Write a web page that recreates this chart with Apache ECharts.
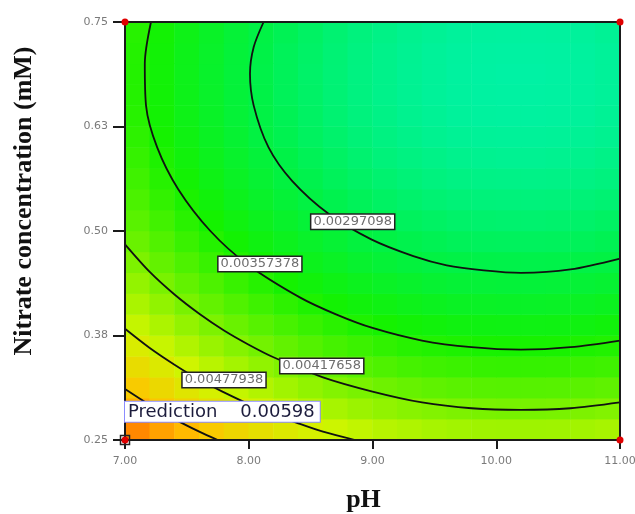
<!DOCTYPE html>
<html>
<head>
<meta charset="utf-8">
<script src="https://cdn.jsdelivr.net/npm/echarts@6/dist/echarts.min.js"></script>
<style>
html,body{margin:0;padding:0;background:#fff;}
#chart{width:635px;height:514px;}
</style>
</head>
<body>
<div id="chart"></div>
<script>
// cell centres of the shaded grid
const phCells = ['7.1','7.3','7.5','7.7','7.9','8.1','8.3','8.5','8.7','8.9','9.1','9.3','9.5','9.7','9.9','10.1','10.3','10.5','10.7','10.9'];
const nitrateCells = ['0.2625','0.2875','0.3125','0.3375','0.3625','0.3875','0.4125','0.4375','0.4625','0.4875','0.5125','0.5375','0.5625','0.5875','0.6125','0.6375','0.6625','0.6875','0.7125','0.7375'];

// response in each cell, one row per nitrate cell (bottom row first)
const zRows = [
  [0.00576,0.00559,0.00544,0.00530,0.00516,0.00504,0.00493,0.00483,0.00474,0.00467,0.00460,0.00455,0.00450,0.00447,0.00445,0.00444,0.00444,0.00445,0.00447,0.00450],
  [0.00552,0.00535,0.00520,0.00505,0.00492,0.00480,0.00469,0.00459,0.00450,0.00442,0.00436,0.00430,0.00426,0.00423,0.00420,0.00419,0.00419,0.00420,0.00423,0.00426],
  [0.00529,0.00512,0.00497,0.00483,0.00469,0.00457,0.00446,0.00436,0.00427,0.00420,0.00413,0.00408,0.00403,0.00400,0.00398,0.00397,0.00397,0.00398,0.00400,0.00403],
  [0.00508,0.00491,0.00476,0.00461,0.00448,0.00436,0.00425,0.00415,0.00406,0.00398,0.00392,0.00386,0.00382,0.00379,0.00376,0.00375,0.00375,0.00376,0.00379,0.00382],
  [0.00488,0.00471,0.00456,0.00441,0.00428,0.00416,0.00405,0.00395,0.00386,0.00379,0.00372,0.00366,0.00362,0.00359,0.00356,0.00355,0.00355,0.00356,0.00359,0.00362],
  [0.00469,0.00453,0.00437,0.00423,0.00410,0.00398,0.00387,0.00377,0.00368,0.00360,0.00354,0.00348,0.00344,0.00340,0.00338,0.00337,0.00337,0.00338,0.00340,0.00344],
  [0.00452,0.00436,0.00420,0.00406,0.00393,0.00381,0.00370,0.00360,0.00351,0.00343,0.00337,0.00331,0.00327,0.00323,0.00321,0.00320,0.00320,0.00321,0.00323,0.00327],
  [0.00437,0.00420,0.00405,0.00391,0.00377,0.00365,0.00354,0.00344,0.00336,0.00328,0.00321,0.00316,0.00311,0.00308,0.00306,0.00305,0.00305,0.00306,0.00308,0.00311],
  [0.00423,0.00406,0.00391,0.00377,0.00363,0.00351,0.00340,0.00330,0.00322,0.00314,0.00307,0.00302,0.00297,0.00294,0.00292,0.00291,0.00291,0.00292,0.00294,0.00297],
  [0.00410,0.00394,0.00378,0.00364,0.00351,0.00339,0.00328,0.00318,0.00309,0.00301,0.00295,0.00289,0.00285,0.00281,0.00279,0.00278,0.00278,0.00279,0.00281,0.00285],
  [0.00399,0.00383,0.00367,0.00353,0.00340,0.00328,0.00317,0.00307,0.00298,0.00290,0.00284,0.00278,0.00274,0.00270,0.00268,0.00267,0.00267,0.00268,0.00270,0.00274],
  [0.00390,0.00373,0.00358,0.00344,0.00330,0.00318,0.00307,0.00297,0.00288,0.00281,0.00274,0.00269,0.00264,0.00261,0.00259,0.00258,0.00258,0.00259,0.00261,0.00264],
  [0.00382,0.00365,0.00350,0.00336,0.00322,0.00310,0.00299,0.00289,0.00280,0.00273,0.00266,0.00261,0.00256,0.00253,0.00251,0.00250,0.00250,0.00251,0.00253,0.00256],
  [0.00375,0.00359,0.00343,0.00329,0.00316,0.00304,0.00293,0.00283,0.00274,0.00266,0.00259,0.00254,0.00250,0.00246,0.00244,0.00243,0.00243,0.00244,0.00246,0.00250],
  [0.00370,0.00354,0.00338,0.00324,0.00311,0.00298,0.00287,0.00277,0.00269,0.00261,0.00254,0.00249,0.00244,0.00241,0.00239,0.00238,0.00238,0.00239,0.00241,0.00244],
  [0.00366,0.00350,0.00334,0.00320,0.00307,0.00295,0.00284,0.00274,0.00265,0.00257,0.00251,0.00245,0.00241,0.00237,0.00235,0.00234,0.00234,0.00235,0.00237,0.00241],
  [0.00364,0.00348,0.00332,0.00318,0.00305,0.00293,0.00281,0.00272,0.00263,0.00255,0.00248,0.00243,0.00238,0.00235,0.00233,0.00232,0.00232,0.00233,0.00235,0.00238],
  [0.00363,0.00347,0.00331,0.00317,0.00304,0.00292,0.00281,0.00271,0.00262,0.00254,0.00248,0.00242,0.00238,0.00234,0.00232,0.00231,0.00231,0.00232,0.00234,0.00238],
  [0.00364,0.00348,0.00332,0.00318,0.00305,0.00293,0.00281,0.00272,0.00263,0.00255,0.00248,0.00243,0.00238,0.00235,0.00233,0.00232,0.00232,0.00233,0.00235,0.00238],
  [0.00366,0.00350,0.00334,0.00320,0.00307,0.00295,0.00284,0.00274,0.00265,0.00257,0.00251,0.00245,0.00241,0.00237,0.00235,0.00234,0.00234,0.00235,0.00237,0.00241]
];

// contour lines [pH, nitrate]
const contour297 = [[8.12,0.750],[8.04,0.720],[8.01,0.688],[8.04,0.650],[8.16,0.600],[8.35,0.560],[8.65,0.520],[8.99,0.490],[9.33,0.470],[9.60,0.459],[9.90,0.453],[10.20,0.450],[10.60,0.454],[11.00,0.467]];
const contour357 = [[7.21,0.750],[7.16,0.700],[7.17,0.650],[7.26,0.600],[7.43,0.550],[7.69,0.500],[7.99,0.460],[8.42,0.420],[8.71,0.400],[9.00,0.384],[9.40,0.369],[9.80,0.361],[10.20,0.358],[10.60,0.361],[11.00,0.369]];
const contour418 = [[7.00,0.484],[7.20,0.451],[7.40,0.424],[7.60,0.401],[7.80,0.381],[8.00,0.364],[8.20,0.349],[8.60,0.325],[9.00,0.308],[9.40,0.295],[9.80,0.288],[10.20,0.286],[10.60,0.288],[11.00,0.295]];
const contour478 = [[7.00,0.383],[7.20,0.360],[7.40,0.340],[7.60,0.322],[7.80,0.307],[8.00,0.293],[8.20,0.281],[8.40,0.270],[8.60,0.260],[8.86,0.250]];
const contour538 = [[7.00,0.311],[7.20,0.292],[7.40,0.275],[7.60,0.260],[7.75,0.250]];

const contourLabels = ['0.00297098','0.00357378','0.00417658','0.00477938'];
const contourLabelAt = [[8.84,0.511],[8.09,0.4605],[8.59,0.3385],[7.80,0.3218]];

const designPoints = [[7,0.25],[7,0.75],[11,0.75],[11,0.25]];
const predictionPoint = [7,0.25];
const predictionValue = '0.00598';

const xTickLabels = ['7.00','8.00','9.00','10.00','11.00'];
const yTickLabels = ['0.25','0.38','0.50','0.63','0.75'];

const heatData = [];
zRows.forEach((row, j) => row.forEach((v, i) => heatData.push([i, j, v])));

const frame = {color:'#1a1a1a', width:2};
const tickFont = {color:'#7a7a7a', fontSize:11, fontFamily:'DejaVu Sans'};
const titleFont = {fontFamily:'Liberation Serif', fontWeight:'bold', fontSize:26, color:'#111'};

const lines = [contour297, contour357, contour418, contour478, contour538].map(c => ({
  type:'line', data:c, xAxisIndex:0, yAxisIndex:0, showSymbol:false, smooth:0.3,
  lineStyle:{color:'#111', width:1.8}, z:3, silent:true
}));

const option = {
  animation:false,
  grid:{left:125, right:15, top:22, bottom:74, outerBoundsMode:'none'},
  visualMap:{
    show:false, seriesIndex:0, dimension:2, min:0.0023, max:0.0060,
    inRange:{color:['#00f2a5','#00f249','#14f200','#71f200','#d0f500','#ffc300','#ff6200']}
  },
  xAxis:[
    {type:'value', min:7, max:11, interval:1, z:10,
     axisLine:{onZero:false, lineStyle:frame}, axisTick:{length:9, lineStyle:frame},
     axisLabel:Object.assign({margin:16, formatter:(v, i) => xTickLabels[i]}, tickFont),
     splitLine:{show:false},
     name:'pH', nameLocation:'middle', nameGap:47,
     nameTextStyle:Object.assign({padding:[0,18,0,0]}, titleFont)},
    {type:'category', data:phCells, position:'top', z:10,
     axisLine:{lineStyle:frame}, axisTick:{show:false}, axisLabel:{show:false}}
  ],
  yAxis:[
    {type:'value', min:0.25, max:0.75, interval:0.125, z:10,
     axisLine:{onZero:false, lineStyle:frame}, axisTick:{length:12, lineStyle:frame},
     axisLabel:Object.assign({margin:17, formatter:(v, i) => yTickLabels[i]}, tickFont),
     splitLine:{show:false},
     name:'Nitrate concentration (mM)', nameLocation:'middle', nameGap:88,
     nameTextStyle:Object.assign({padding:[0,0,0,60]}, titleFont)},
    {type:'category', data:nitrateCells, position:'right', z:10,
     axisLine:{lineStyle:frame}, axisTick:{show:false}, axisLabel:{show:false}}
  ],
  series:[
    {type:'heatmap', xAxisIndex:1, yAxisIndex:1, data:heatData, silent:true},
    ...lines,
    {type:'scatter', data:contourLabelAt.map((p, i) => ({value:p, name:contourLabels[i]})),
     symbol:'rect', symbolSize:1, itemStyle:{color:'rgba(0,0,0,0)', opacity:1}, z:6, silent:true,
     label:{show:true, position:'inside', formatter:'{b}', fontFamily:'DejaVu Sans', fontSize:13,
            color:'#6e6e6e', backgroundColor:'#fff', borderColor:'#222', borderWidth:1.5, padding:[1,2,0,2]}},
    {type:'scatter', data:[{value:predictionPoint, name:predictionValue}],
     symbol:'rect', symbolSize:9, itemStyle:{color:'rgba(0,0,0,0)', borderColor:'#222', borderWidth:1.5, opacity:1},
     z:18, silent:true,
     label:{show:true, position:'top', align:'left', distance:13,
            formatter:p => 'Prediction    ' + p.name,
            fontFamily:'DejaVu Sans', fontSize:18, lineHeight:19, color:'#1c1c3c',
            backgroundColor:'#fff', borderColor:'#8c8cff', borderWidth:1, padding:[1,5,0,3]}},
    {type:'scatter', data:designPoints, symbolSize:7, itemStyle:{color:'#e00000', opacity:1}, z:20, silent:true}
  ]
};

echarts.init(document.getElementById('chart')).setOption(option);
</script>
</body>
</html>
